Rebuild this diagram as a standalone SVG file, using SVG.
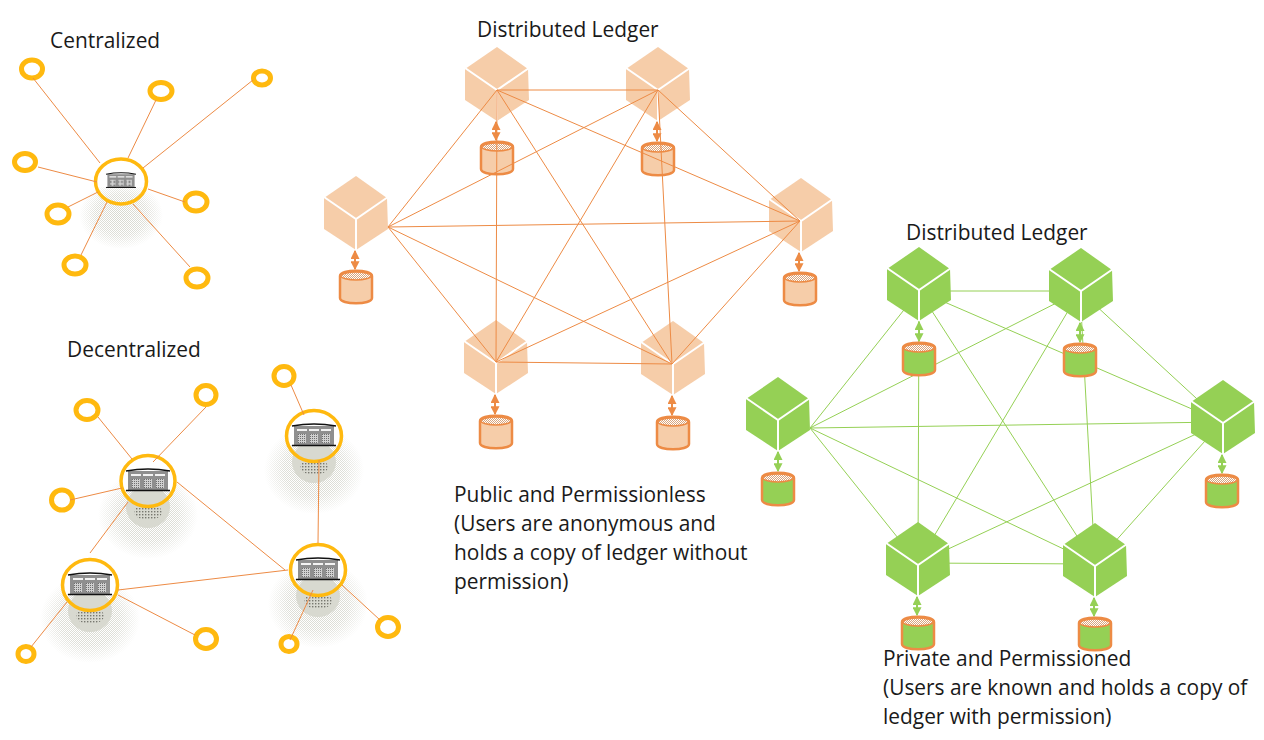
<svg xmlns="http://www.w3.org/2000/svg" width="1264" height="740" viewBox="0 0 1264 740">
<style>
text{font-family:"Open Sans","Noto Sans","Liberation Sans",sans-serif;font-size:20.9px;fill:#1a1a1a}
.ol line{stroke:#ed8b45;stroke-width:1}
.gl line{stroke:#95d055;stroke-width:1}
.ring{fill:none;stroke:#ffb90f;stroke-width:5}
.hub{fill:none;stroke:#ffb90f;stroke-width:3.5}
.oa{stroke:#ed8b45;stroke-width:2;marker-start:url(#ah);marker-end:url(#ah)}
.ga{stroke:#95d055;stroke-width:2;marker-start:url(#ahg);marker-end:url(#ahg)}
.oc{fill:#f6cda9}.gc{fill:#95d055}
</style>
<defs>
<marker id="ah" viewBox="0 0 8 8" refX="7" refY="4" markerWidth="9" markerHeight="9" markerUnits="userSpaceOnUse" orient="auto-start-reverse"><path d="M0 0L8 4L0 8Z" fill="#ed8b45"/></marker>
<marker id="ahg" viewBox="0 0 8 8" refX="7" refY="4" markerWidth="9" markerHeight="9" markerUnits="userSpaceOnUse" orient="auto-start-reverse"><path d="M0 0L8 4L0 8Z" fill="#95d055"/></marker>
<pattern id="dots" width="2" height="2" patternUnits="userSpaceOnUse"><rect width="2" height="2" fill="#ffffff"/><rect width="1" height="1" fill="#d9a57c"/><rect x="1" y="1" width="1" height="1" fill="#d9a57c"/></pattern>
<pattern id="gdots" width="3" height="3" patternUnits="userSpaceOnUse"><rect width="1.4" height="1.4" fill="#77786f"/></pattern>
<pattern id="sdots" width="2" height="2" patternUnits="userSpaceOnUse"><rect width="1" height="1" fill="#d6d7ce"/><rect x="1" y="1" width="1" height="1" fill="#d6d7ce"/></pattern>
<pattern id="doors" width="2" height="2" patternUnits="userSpaceOnUse"><rect width="2" height="2" fill="#d0d0d0"/><rect width="1" height="1" fill="#6f6f6f"/></pattern>
<radialGradient id="fade"><stop offset="0" stop-color="#fff"/><stop offset=".6" stop-color="#fff" stop-opacity=".8"/><stop offset="1" stop-color="#fff" stop-opacity="0"/></radialGradient>
<mask id="shm" maskUnits="userSpaceOnUse" x="-60" y="-20" width="120" height="110"><ellipse cx="0" cy="34" rx="50" ry="44" fill="url(#fade)"/></mask>
<mask id="shm2" maskUnits="userSpaceOnUse" x="-50" y="-10" width="100" height="90"><ellipse cx="0" cy="34" rx="42" ry="34" fill="url(#fade)"/></mask>
<clipPath id="above"><rect x="-40" y="-40" width="80" height="49"/></clipPath>
<clipPath id="above2"><rect x="-40" y="-40" width="80" height="46"/></clipPath>
<g id="cube">
<path d="M0-43L31-21L32 10L0 31L-32 10L-32-21Z"/>
<path d="M-32-22L0 0L32-22M0 0V31" fill="none" stroke="#fff" stroke-width="2"/>
</g>
<g id="cyl">
<path d="M-16 5V27C-16 34 16 34 16 27V5C16-2-16-2-16 5Z" stroke="#ed8b45" stroke-width="2.500"/>
<ellipse cx="0" cy="5" rx="15" ry="4" fill="url(#dots)" stroke="#ed8b45" stroke-width="1.500"/>
</g>
<g id="shadow">
<ellipse cx="0" cy="34" rx="50" ry="44" fill="url(#sdots)" mask="url(#shm)"/>
<ellipse cx="0" cy="26" rx="22" ry="21" fill="#d8d9d0"/>
<ellipse cx="0" cy="31" rx="14" ry="8" fill="url(#gdots)"/>
<ellipse cx="0" cy="0" rx="27" ry="25" fill="#fff" clip-path="url(#above)"/>
</g>
<g id="shadow2">
<ellipse cx="0" cy="34" rx="42" ry="34" fill="url(#sdots)" mask="url(#shm2)"/>
<ellipse cx="0" cy="0" rx="25" ry="22" fill="#fff" clip-path="url(#above2)"/>
</g>
<g id="bank">
<rect x="-20" y="-10" width="40" height="19" fill="#8f8f8f"/>
<path d="M-22-10Q0-14 22-10" fill="none" stroke="#111" stroke-width="1.500"/>
<path d="M-22 9.500H22" stroke="#111" stroke-width="1.500"/>
<path d="M-17-6H-7M-5-6H5M7-6H17" stroke="#f3f3f3" stroke-width="2"/>
<path d="M-16-2h8v9h-8zM-4-2h8v9h-8zM8-2h8v9h-8z" fill="url(#doors)"/>
</g>
</defs>

<g id="labels">
<text x="50" y="48">Centralized</text>
<text x="67" y="357">Decentralized</text>
<text x="477" y="37">Distributed Ledger</text>
<text x="906" y="240">Distributed Ledger</text>
<text x="454" y="502">Public and Permissionless</text>
<text x="454" y="531">(Users are anonymous and</text>
<text x="454" y="560">holds a copy of ledger without</text>
<text x="454" y="589">permission)</text>
<text x="883" y="666">Private and Permissioned</text>
<text x="883" y="695">(Users are known and holds a copy of</text>
<text x="883" y="724">ledger with permission)</text>
</g>

<g id="central-network">
<g id="central-hub"><use href="#shadow2" x="121" y="181"/><use href="#bank" transform="translate(121 181) scale(.68)"/><ellipse class="hub" cx="121" cy="181.500" rx="25.500" ry="22.500"/></g>
<g id="c1"><ellipse class="ring" cx="32" cy="69" rx="10.500" ry="9"/></g>
<g id="c2"><ellipse class="ring" cx="161" cy="91" rx="11" ry="8.500"/></g>
<g id="c3"><ellipse class="ring" cx="262" cy="78" rx="8.500" ry="7"/></g>
<g id="c4"><ellipse class="ring" cx="25" cy="162" rx="10.500" ry="8.500"/></g>
<g id="c5"><ellipse class="ring" cx="58" cy="214" rx="11" ry="9"/></g>
<g id="c6"><ellipse class="ring" cx="75" cy="265" rx="11" ry="9"/></g>
<g id="c7"><ellipse class="ring" cx="196" cy="202" rx="11" ry="9"/></g>
<g id="c8"><ellipse class="ring" cx="197" cy="278" rx="11" ry="9"/></g>
</g>

<g id="central-connectors" class="ol">
<line x1="33" y1="78" x2="100" y2="163"/>
<line x1="156" y1="100" x2="128" y2="158"/>
<line x1="253" y1="80" x2="143" y2="168"/>
<line x1="38" y1="167" x2="97" y2="182"/>
<line x1="68" y1="207" x2="98" y2="192"/>
<line x1="81" y1="255" x2="107" y2="202"/>
<line x1="190" y1="267" x2="133" y2="204"/>
<line x1="148" y1="189" x2="185" y2="202"/>
</g>

<g id="decentral-network">
<g id="h1"><use href="#shadow" x="148" y="481"/><use href="#bank" x="148" y="481"/><ellipse class="hub" cx="148" cy="481" rx="27" ry="25.500"/></g>
<g id="h2"><use href="#shadow" x="314" y="436"/><use href="#bank" x="314" y="436"/><ellipse class="hub" cx="314" cy="436" rx="27.500" ry="25.500"/></g>
<g id="h3"><use href="#shadow" x="90" y="585"/><use href="#bank" x="90" y="585"/><ellipse class="hub" cx="90" cy="585" rx="27.500" ry="25.500"/></g>
<g id="h4"><use href="#shadow" x="318" y="570"/><use href="#bank" x="318" y="570"/><ellipse class="hub" cx="318" cy="570" rx="27.500" ry="25.500"/></g>
<g id="d1"><ellipse class="ring" cx="87" cy="410" rx="11" ry="9.500"/></g>
<g id="d2"><ellipse class="ring" cx="206" cy="395" rx="10" ry="9.500"/></g>
<g id="d3"><ellipse class="ring" cx="62" cy="500" rx="10.500" ry="10"/></g>
<g id="d4"><ellipse class="ring" cx="206" cy="639" rx="10.500" ry="9.500"/></g>
<g id="d5"><ellipse class="ring" cx="289" cy="644" rx="8" ry="7.500"/></g>
<g id="d6"><ellipse class="ring" cx="388" cy="627" rx="10.500" ry="9.500"/></g>
<g id="d7"><ellipse class="ring" cx="26" cy="654" rx="8" ry="7.500"/></g>
<g id="d8"><ellipse class="ring" cx="284" cy="376" rx="10" ry="9.500"/></g>
</g>

<g id="decentral-connectors" class="ol">
<line x1="98" y1="417" x2="132" y2="459"/>
<line x1="206" y1="407" x2="153" y2="462"/>
<line x1="70" y1="500" x2="122" y2="488"/>
<line x1="128" y1="502" x2="90" y2="553"/>
<line x1="177" y1="482" x2="285" y2="570"/>
<line x1="118" y1="590" x2="288" y2="570"/>
<line x1="118" y1="595" x2="195" y2="635"/>
<line x1="319" y1="460" x2="318" y2="543"/>
<line x1="313" y1="590" x2="290" y2="640"/>
<line x1="342" y1="585" x2="380" y2="620"/>
<line x1="67" y1="602" x2="31" y2="647"/>
<line x1="291" y1="385" x2="304" y2="415"/>
</g>

<g id="ledger-public">
<g id="p-a"><use href="#cube" class="oc" x="497" y="90"/><line class="oa" x1="496" y1="122" x2="496" y2="140"/><use href="#cyl" class="oc" x="497" y="142"/></g>
<g id="p-b"><use href="#cube" class="oc" x="658" y="90"/><line class="oa" x1="657" y1="122" x2="657" y2="141"/><use href="#cyl" class="oc" x="658" y="143"/></g>
<g id="p-c"><use href="#cube" class="oc" x="801" y="221"/><line class="oa" x1="799" y1="253" x2="799" y2="271"/><use href="#cyl" class="oc" x="800" y="273"/></g>
<g id="p-d"><use href="#cube" class="oc" x="673" y="364"/><line class="oa" x1="672" y1="396" x2="672" y2="415"/><use href="#cyl" class="oc" x="673" y="417"/></g>
<g id="p-e"><use href="#cube" class="oc" x="496" y="363"/><line class="oa" x1="495" y1="395" x2="495" y2="414"/><use href="#cyl" class="oc" x="496" y="416"/></g>
<g id="p-f"><use href="#cube" class="oc" x="356" y="219"/><line class="oa" x1="355" y1="251" x2="355" y2="269"/><use href="#cyl" class="oc" x="356" y="271"/></g>
</g>

<g id="public-connectors" class="ol">
<line x1="497" y1="90" x2="658" y2="90"/>
<line x1="497" y1="90" x2="800" y2="221"/>
<line x1="497" y1="90" x2="672" y2="364"/>
<line x1="497" y1="90" x2="496" y2="362"/>
<line x1="497" y1="90" x2="388" y2="227"/>
<line x1="658" y1="90" x2="800" y2="221"/>
<line x1="658" y1="90" x2="672" y2="364"/>
<line x1="658" y1="90" x2="496" y2="362"/>
<line x1="658" y1="90" x2="388" y2="227"/>
<line x1="800" y1="221" x2="672" y2="364"/>
<line x1="800" y1="221" x2="496" y2="362"/>
<line x1="800" y1="221" x2="388" y2="227"/>
<line x1="672" y1="364" x2="496" y2="362"/>
<line x1="672" y1="364" x2="388" y2="227"/>
<line x1="496" y1="362" x2="388" y2="227"/>
</g>

<g id="private-connectors" class="gl">
<line x1="919" y1="291" x2="1080" y2="291"/>
<line x1="919" y1="291" x2="1222" y2="422"/>
<line x1="919" y1="291" x2="1095" y2="564"/>
<line x1="919" y1="291" x2="918" y2="563"/>
<line x1="919" y1="291" x2="810" y2="428"/>
<line x1="1080" y1="291" x2="1222" y2="422"/>
<line x1="1080" y1="291" x2="1095" y2="564"/>
<line x1="1080" y1="291" x2="918" y2="563"/>
<line x1="1080" y1="291" x2="810" y2="428"/>
<line x1="1222" y1="422" x2="1095" y2="564"/>
<line x1="1222" y1="422" x2="918" y2="563"/>
<line x1="1222" y1="422" x2="810" y2="428"/>
<line x1="1095" y1="564" x2="918" y2="563"/>
<line x1="1095" y1="564" x2="810" y2="428"/>
<line x1="918" y1="563" x2="810" y2="428"/>
</g>

<g id="ledger-private">
<g id="g-a"><use href="#cube" class="gc" x="919" y="290"/><line class="ga" x1="919" y1="322" x2="919" y2="341"/><use href="#cyl" class="gc" x="919" y="343"/></g>
<g id="g-b"><use href="#cube" class="gc" x="1081" y="291"/><line class="ga" x1="1080" y1="323" x2="1080" y2="342"/><use href="#cyl" class="gc" x="1080" y="344"/></g>
<g id="g-c"><use href="#cube" class="gc" x="1223" y="423"/><line class="ga" x1="1222" y1="455" x2="1222" y2="473"/><use href="#cyl" class="gc" x="1222" y="475"/></g>
<g id="g-d"><use href="#cube" class="gc" x="1095" y="566"/><line class="ga" x1="1094" y1="598" x2="1094" y2="616"/><use href="#cyl" class="gc" x="1095" y="618"/></g>
<g id="g-e"><use href="#cube" class="gc" x="918" y="565"/><line class="ga" x1="917" y1="597" x2="917" y2="615"/><use href="#cyl" class="gc" x="918" y="617"/></g>
<g id="g-f"><use href="#cube" class="gc" x="778" y="420"/><line class="ga" x1="778" y1="452" x2="778" y2="471"/><use href="#cyl" class="gc" x="778" y="473"/></g>
</g>
</svg>
